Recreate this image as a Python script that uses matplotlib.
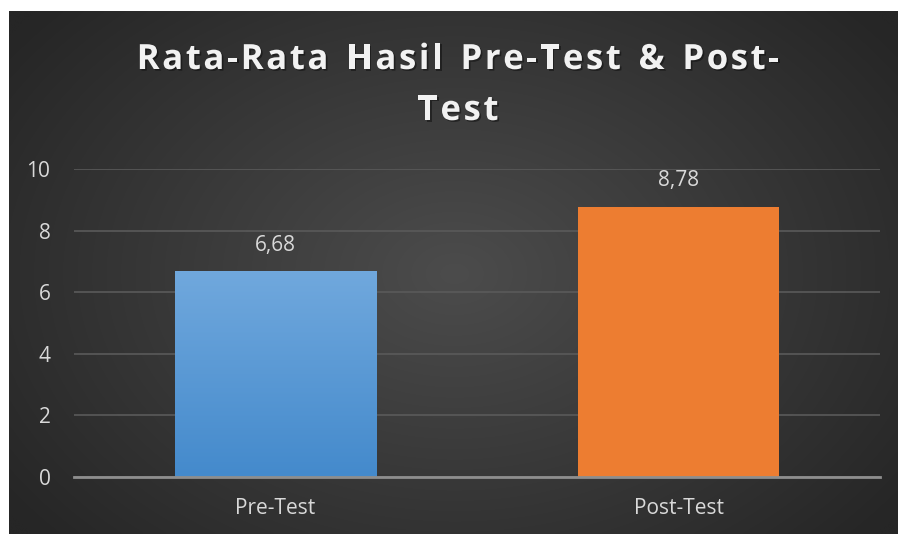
import numpy as np
import matplotlib
matplotlib.use("Agg")
import matplotlib.pyplot as plt
import matplotlib.patheffects as pe

categories = ["Pre-Test", "Post-Test"]
values = [6.68, 8.78]
value_labels = ["6,68", "8,78"]
yticks = [0, 2, 4, 6, 8, 10]
title_lines = ["Rata-Rata Hasil Pre-Test & Post-", "Test"]

W, H = 898, 534
fig = plt.figure(figsize=(W / 100, H / 100), dpi=100, facecolor="white")

# background panel with radial gradient
bg = fig.add_axes([9 / W, 0, 1 - 9 / W, (H - 11) / H])
bg.set_axis_off()
ny, nx = 200, 340
yy, xx = np.mgrid[0:ny, 0:nx]
cx, cy = nx * 0.5, ny * 0.5
r = np.sqrt(((xx - cx) / (nx * 0.62)) ** 2 + ((yy - cy) / (ny * 0.75)) ** 2)
r = np.clip(r, 0, 1)
inner = np.array([0x4c, 0x4c, 0x4c]) / 255
outer = np.array([0x26, 0x26, 0x26]) / 255
img = inner[None, None, :] * (1 - r[..., None]) + outer[None, None, :] * r[..., None]
bg.imshow(img, extent=[0, 1, 0, 1], aspect="auto", interpolation="bicubic")
bg.set_xlim(0, 1)
bg.set_ylim(0, 1)

ax = fig.add_axes([74 / W, (H - 477) / H, (880 - 74) / W, (477 - 169) / H])
ax.patch.set_alpha(0)
x = np.arange(len(categories))
bars = ax.bar(x, values, width=0.5, color=["#5b9bd5", "#ed7d31"], zorder=3)
ax.set_xlim(-0.5, len(categories) - 0.5)
ax.set_ylim(0, 10)

# gradient on first bar
b = bars[0]
grad = np.linspace(0, 1, 100)[:, None]
top_c = np.array([0x70, 0xa8, 0xdd]) / 255
bot_c = np.array([0x44, 0x8a, 0xcc]) / 255
gimg = top_c[None, None, :] * (1 - grad[..., None]) + bot_c[None, None, :] * grad[..., None]
gimg = np.repeat(gimg, 2, axis=1)
im = ax.imshow(gimg, extent=[b.get_x(), b.get_x() + b.get_width(), 0, b.get_height()],
               aspect="auto", zorder=4)
im.set_clip_path(b)
ax.set_xlim(-0.5, len(categories) - 0.5)
ax.set_ylim(0, 10)

ax.set_yticks(yticks)
ax.set_yticklabels([str(t) for t in yticks])
ax.set_xticks(x)
ax.set_xticklabels(categories)
ax.grid(axis="y", color="#5a5a5a", linewidth=1.2, zorder=0)
ax.set_axisbelow(True)
for s in ["top", "right", "left"]:
    ax.spines[s].set_visible(False)
ax.spines["bottom"].set_color("#8e8e8e")
ax.spines["bottom"].set_linewidth(2)
ax.spines["bottom"].set_zorder(5)
ax.tick_params(axis="both", length=0, colors="#d9d9d9", labelsize=15)
ax.tick_params(axis="y", pad=17)
ax.tick_params(axis="x", pad=15)
for lab in ax.get_xticklabels() + ax.get_yticklabels():
    lab.set_fontfamily("Open Sans")

for xi, v, lab in zip(x, values, value_labels):
    ax.annotate(lab, (xi, v), xytext=(0, 11), textcoords="offset points",
                ha="center", va="bottom", color="#d9d9d9", fontsize=15,
                fontfamily="Open Sans")

# title with letter spacing
fig.canvas.draw()
renderer = fig.canvas.get_renderer()
shadow = [pe.withSimplePatchShadow(offset=(1.2, -1.2), shadow_rgbFace="black", alpha=0.4)]


def spaced_text(s, cx_px, cy_px, size, spacing):
    widths = []
    for ch in s:
        t = fig.text(0, 0, ch if ch != " " else "n", fontsize=size, fontweight="bold",
                     fontfamily="Open Sans")
        w = t.get_window_extent(renderer).width
        if ch == " ":
            w *= 0.55
        widths.append(w)
        t.remove()
    total = sum(widths) + spacing * (len(s) - 1)
    xpos = cx_px - total / 2
    for ch, w in zip(s, widths):
        if ch != " ":
            fig.text(xpos / W, 1 - cy_px / H, ch, fontsize=size, fontweight="bold",
                     fontfamily="Open Sans", color="#f2f2f2", ha="left", va="center",
                     path_effects=shadow)
        xpos += w + spacing


spaced_text(title_lines[0], 458, 60, 25, 2.6)
spaced_text(title_lines[1], 458, 111, 25, 2.6)

fig.savefig("out.png", dpi=100, facecolor="white")
